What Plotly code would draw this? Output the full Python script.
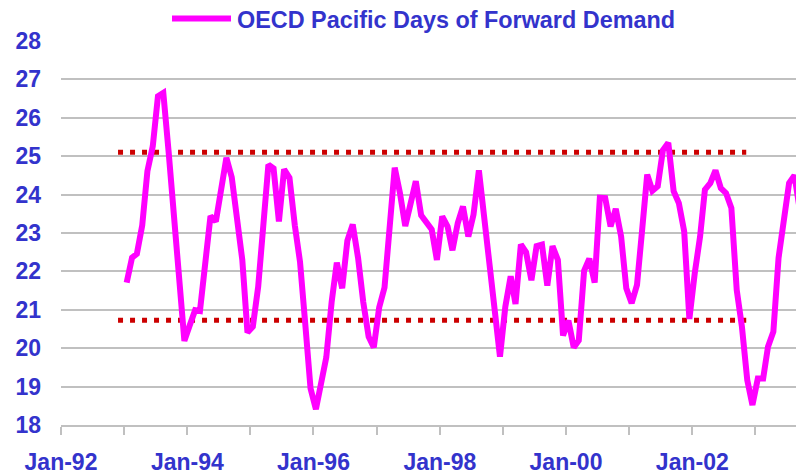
import plotly.graph_objects as go
import pandas as pd

# Monthly values, Jan-93 onwards
start_month = "1993-01-15"
days_forward = [
    21.71, 22.36, 22.46, 23.20, 24.61, 25.26, 26.56, 26.65, 25.10, 23.40, 21.80, 20.19,
    20.60, 20.99, 20.97, 22.27, 23.44, 23.30, 24.05, 24.96, 24.45, 23.50, 22.30, 20.41,
    20.56, 21.60, 23.30, 24.78, 24.68, 23.30, 24.66, 24.44, 23.20, 22.25, 20.60, 18.95,
    18.41, 19.10, 19.76, 21.20, 22.23, 21.56, 22.80, 23.22, 22.35, 21.20, 20.30, 20.02,
    21.06, 21.58, 23.20, 24.70, 24.05, 23.18, 23.75, 24.35, 23.46, 23.25, 23.09, 22.30,
    23.43, 23.17, 22.55, 23.26, 23.69, 22.91, 23.48, 24.63, 23.40, 22.40, 21.10, 19.78,
    21.08, 21.87, 21.15, 22.70, 22.50, 21.77, 22.66, 22.70, 21.63, 22.66, 22.30, 20.33,
    20.72, 20.02, 20.20, 22.02, 22.33, 21.71, 23.92, 23.91, 23.17, 23.63, 22.91, 21.56,
    21.17, 21.65, 23.00, 24.52, 24.10, 24.22, 25.16, 25.35, 24.09, 23.78, 23.04, 20.76,
    21.95, 22.91, 24.13, 24.30, 24.63, 24.17, 24.04, 23.65, 21.52, 20.56, 19.17, 18.52,
    19.21, 19.21, 20.04, 20.43, 22.35, 23.35, 24.30, 24.50, 23.60,
]
dates = pd.date_range(start_month, periods=len(days_forward),
                      freq=pd.DateOffset(months=1))

# Band lines (dotted)
band_dates = ["1992-11-26", "2002-11-09"]
upper_band = [25.10, 25.10]
lower_band = [20.73, 20.73]

series_name = "OECD Pacific Days of Forward Demand"
y_ticks = list(range(18, 29))

BLUE = "#3333CC"
GRID = "#C0C0C0"
FONT = "Liberation Sans, Arial, sans-serif"

fig = go.Figure()
fig.add_trace(go.Scatter(x=band_dates, y=upper_band, mode="lines",
                         line=dict(color="#CC0000", width=5, dash="5px,7px"),
                         showlegend=False, hoverinfo="skip"))
fig.add_trace(go.Scatter(x=band_dates, y=lower_band, mode="lines",
                         line=dict(color="#CC0000", width=5, dash="5px,7px"),
                         showlegend=False, hoverinfo="skip"))
fig.add_trace(go.Scatter(x=dates, y=days_forward, mode="lines", name=series_name,
                         line=dict(color="#FF00FF", width=6), showlegend=False))

W, H = 796, 474
ml, mr, mt, mb = 61, 0, 41, 49
pw, ph = W - ml - mr, H - mt - mb

def px_x(p):
    return (p - ml) / pw

def px_y(p):
    return 1 + (mt - p) / ph

fig.update_layout(
    width=W, height=H, autosize=False,
    margin=dict(l=ml, r=mr, t=mt, b=mb, pad=0),
    paper_bgcolor="white", plot_bgcolor="white",
    showlegend=False,
    xaxis=dict(
        type="date", range=["1992-01-01", "2003-08-24"], automargin=False,
        tick0="1992-01-01", dtick="M24", tickformat="%b-%y",
        ticks="outside", ticklen=8, tickwidth=2, tickcolor=GRID,
        showline=True, linecolor=GRID, linewidth=2,
        showgrid=False, zeroline=False,
        minor=dict(dtick="M12", ticks="outside", ticklen=8, tickwidth=2,
                   tickcolor=GRID, showgrid=False),
        tickfont=dict(family=FONT, size=23, color=BLUE, weight="bold"),
        ticklabelstandoff=7,
    ),
    yaxis=dict(
        range=[18, 28], tickvals=y_ticks, automargin=False,
        showgrid=True, gridcolor=GRID, gridwidth=2,
        showline=False, zeroline=False, ticks="",
        tickfont=dict(family=FONT, size=23, color=BLUE, weight="bold"),
        ticklabelstandoff=19,
    ),
    shapes=[
        dict(type="rect", xref="paper", yref="paper",
             x0=px_x(98), x1=px_x(741), y0=px_y(46), y1=px_y(8),
             fillcolor="white", line=dict(width=0), layer="above"),
        dict(type="line", xref="paper", yref="paper",
             x0=px_x(172), x1=px_x(231), y0=px_y(18.5), y1=px_y(18.5),
             line=dict(color="#FF00FF", width=6), layer="above"),
    ],
    annotations=[
        dict(text=series_name, xref="paper", yref="paper",
             x=px_x(235), y=px_y(19.5), xanchor="left", yanchor="middle",
             showarrow=False,
             font=dict(family=FONT, size=23.4, color=BLUE, weight="bold")),
    ],
)

# Remove the default page margin so the figure fills the window exactly.
fig.write_html(
    "out.html",
    config={"displayModeBar": False},
    post_script="document.body.style.margin='0';"
                "document.body.style.overflow='hidden';"
                "document.documentElement.style.overflow='hidden';",
)
